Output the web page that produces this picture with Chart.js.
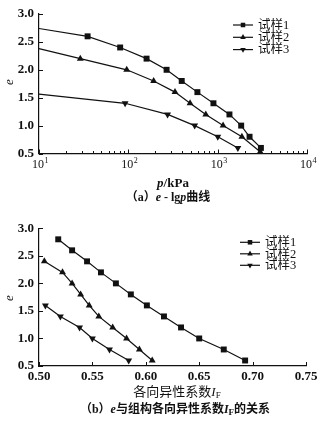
<!DOCTYPE html>
<html>
<head>
<meta charset="utf-8">
<script src="https://cdn.jsdelivr.net/npm/chart.js@4.4.1/dist/chart.umd.min.js"></script>
<style>
  body { margin: 0; background: #fff; width: 327px; height: 422px; position: relative; overflow: hidden;
         font-family: "Liberation Serif", "Noto Sans CJK SC", serif; color: #111; }
  canvas { position: absolute; left: 0; }
  .lbl { position: absolute; white-space: nowrap; transform: translate(-50%, -50%); font-size: 13px; line-height: 1; }
  .lbl sub { font-size: 9px; vertical-align: -2px; }
  .cap { font-size: 12px; font-weight: bold; }
</style>
</head>
<body>
<canvas id="chartA" width="327" height="175" style="top:0"></canvas>
<canvas id="chartB" width="327" height="175" style="top:210px"></canvas>

<div class="lbl" style="left:8px;top:82px;transform:translate(-50%,-50%) rotate(-90deg);font-style:italic">e</div>
<div class="lbl" style="left:173px;top:182px;font-weight:bold"><i>p</i>/kPa</div>
<div class="lbl cap" style="left:168px;top:197px">（a）<i>e</i> - lg<i>p</i>曲线</div>

<div class="lbl" style="left:8px;top:298px;transform:translate(-50%,-50%) rotate(-90deg);font-style:italic">e</div>
<div class="lbl" style="left:177px;top:392px">各向异性系数<i>I</i><sub>F</sub></div>
<div class="lbl cap" style="left:175px;top:410px">（b）<i>e</i>与组构各向异性系数<i>I</i><sub>F</sub>的关系</div>

<script>
// e - lg p curves
const pressure1 = [10, 35, 81, 160, 268, 396, 593, 897, 1355, 1833, 2275, 3048];
const voidRatio1 = [2.74, 2.6, 2.4, 2.2, 2.0, 1.8, 1.6, 1.4, 1.2, 1.0, 0.8, 0.6];
const pressure2 = [10, 29, 96, 192, 333, 491, 736, 1150, 1867, 2992];
const voidRatio2 = [2.38, 2.2, 2.0, 1.8, 1.6, 1.4, 1.2, 1.0, 0.8, 0.53];
const pressure3 = [10, 92, 275, 553, 1003, 1683];
const voidRatio3 = [1.565, 1.4, 1.2, 1.0, 0.8, 0.6];

// e vs fabric anisotropy I_F
const fabric1 = [0.518, 0.531, 0.545, 0.558, 0.572, 0.586, 0.601, 0.617, 0.633, 0.650, 0.673, 0.693];
const eFabric1 = [2.8, 2.6, 2.4, 2.2, 2.0, 1.8, 1.6, 1.4, 1.2, 1.0, 0.8, 0.6];
const fabric2 = [0.505, 0.522, 0.531, 0.539, 0.547, 0.556, 0.569, 0.582, 0.594, 0.606];
const eFabric2 = [2.4, 2.2, 2.0, 1.8, 1.6, 1.4, 1.2, 1.0, 0.8, 0.6];
const fabric3 = [0.506, 0.520, 0.538, 0.550, 0.566, 0.584];
const eFabric3 = [1.6, 1.4, 1.2, 1.0, 0.8, 0.6];

const sampleNames = ['试样1', '试样2', '试样3'];
const decades = [10, 100, 1000, 10000];

const ink = '#111';
const tickFont = { family: '"Liberation Serif", serif', size: 13, weight: 'bold' };
const markers = [
  { pointStyle: 'rect', radius: 4.2, rotation: 0 },
  { pointStyle: 'triangle', radius: 4, rotation: 0 },
  { pointStyle: 'triangle', radius: 4, rotation: 180 }
];

function toPoints(xs, ys) {
  return xs.map((x, i) => ({ x: x, y: ys[i] }));
}

function makeDataset(idx, xs, ys, hideFirst) {
  const m = markers[idx];
  return {
    label: sampleNames[idx],
    data: toPoints(xs, ys),
    borderColor: ink,
    backgroundColor: ink,
    borderWidth: 1.2,
    pointStyle: m.pointStyle,
    pointRotation: m.rotation,
    pointRadius: hideFirst ? xs.map((_, i) => i === 0 ? 0 : m.radius) : m.radius,
    pointBackgroundColor: ink,
    pointBorderWidth: 0,
    clip: false
  };
}

// ticks pointing into the plot area
const inwardTicks = {
  id: 'inwardTicks',
  afterDraw(chart) {
    const ctx = chart.ctx, a = chart.chartArea;
    const xs = chart.scales.x, ys = chart.scales.y;
    ctx.save();
    ctx.strokeStyle = ink;
    ctx.lineWidth = 1;
    ctx.beginPath();
    xs.ticks.forEach(t => {
      const px = Math.round(xs.getPixelForValue(t.value)) + 0.5;
      const len = t.minorTick ? 2.5 : 4;
      ctx.moveTo(px, a.bottom);
      ctx.lineTo(px, a.bottom - len);
    });
    ys.ticks.forEach(t => {
      const py = Math.round(ys.getPixelForValue(t.value)) + 0.5;
      ctx.moveTo(a.left, py);
      ctx.lineTo(a.left + 4, py);
    });
    ctx.stroke();
    ctx.restore();
  }
};

// 10^n labels with a raised exponent
const powerLabels = {
  id: 'powerLabels',
  afterDraw(chart) {
    const ctx = chart.ctx, xs = chart.scales.x, a = chart.chartArea;
    ctx.save();
    ctx.fillStyle = ink;
    ctx.textBaseline = 'alphabetic';
    decades.forEach(d => {
      const px = xs.getPixelForValue(d);
      const exp = String(Math.round(Math.log10(d)));
      ctx.font = '12px "Liberation Serif", serif';
      const wBase = ctx.measureText('10').width;
      ctx.font = '8px "Liberation Serif", serif';
      const wExp = ctx.measureText(exp).width;
      const left = px - (wBase + wExp) / 2 + 1;
      const base = a.bottom + 14;
      ctx.font = '12px "Liberation Serif", serif';
      ctx.textAlign = 'left';
      ctx.fillText('10', left, base);
      ctx.font = '8px "Liberation Serif", serif';
      ctx.fillText(exp, left + wBase + 0.5, base - 5);
    });
    ctx.restore();
  }
};

// line + marker legend placed inside the plot
const sampleLegend = {
  id: 'sampleLegend',
  afterDraw(chart, args, opts) {
    const ctx = chart.ctx;
    ctx.save();
    chart.data.datasets.forEach((ds, i) => {
      const y = opts.y + i * opts.gap;
      ctx.strokeStyle = ink;
      ctx.lineWidth = 1.2;
      ctx.beginPath();
      ctx.moveTo(opts.x, y);
      ctx.lineTo(opts.x + 20, y);
      ctx.stroke();
      ctx.fillStyle = ink;
      Chart.helpers.drawPoint(ctx, { pointStyle: markers[i].pointStyle, radius: 3.2, rotation: markers[i].rotation, borderWidth: 0 }, opts.x + 10, y);
      ctx.fillStyle = ink;
      ctx.font = '12.5px "Liberation Serif", "Noto Sans CJK SC", serif';
      ctx.textAlign = 'left';
      ctx.textBaseline = 'middle';
      ctx.fillText(ds.label, opts.x + 25, y + 0.5);
    });
    ctx.restore();
  }
};

function yScale() {
  return {
    min: 0.5, max: 3.0,
    border: { display: true, color: ink, width: 1.2 },
    grid: { display: false, drawTicks: false },
    ticks: { stepSize: 0.5, color: ink, font: tickFont, padding: 5, callback: v => v.toFixed(1) },
    afterFit: s => { s.width = 39; }
  };
}

new Chart(document.getElementById('chartA'), {
  type: 'line',
  data: {
    datasets: [
      makeDataset(0, pressure1, voidRatio1, true),
      makeDataset(1, pressure2, voidRatio2, true),
      makeDataset(2, pressure3, voidRatio3, true)
    ]
  },
  options: {
    responsive: false,
    animation: false,
    layout: { autoPadding: false, padding: { top: 14, right: 20, bottom: 0, left: 0 } },
    plugins: { legend: { display: false }, tooltip: { enabled: false },
               sampleLegend: { x: 233, y: 25, gap: 12.3 } },
    scales: {
      x: {
        type: 'logarithmic',
        min: 10, max: 10000,
        border: { display: true, color: ink, width: 1.2 },
        grid: { display: false, drawTicks: false },
        ticks: { display: false, autoSkip: false },
        afterBuildTicks: s => {
          const ticks = [];
          decades.forEach(d => {
            ticks.push({ value: d });
            if (d < 10000) for (let k = 2; k <= 9; k++) ticks.push({ value: d * k, minorTick: true });
          });
          s.ticks = ticks;
        },
        afterFit: s => { s.height = 21.5; }
      },
      y: yScale()
    }
  },
  plugins: [inwardTicks, powerLabels, sampleLegend]
});

new Chart(document.getElementById('chartB'), {
  type: 'line',
  data: {
    datasets: [
      makeDataset(0, fabric1, eFabric1, false),
      makeDataset(1, fabric2, eFabric2, false),
      makeDataset(2, fabric3, eFabric3, false)
    ]
  },
  options: {
    responsive: false,
    animation: false,
    layout: { autoPadding: false, padding: { top: 18.3, right: 21, bottom: 0, left: 0 } },
    plugins: { legend: { display: false }, tooltip: { enabled: false },
               sampleLegend: { x: 240, y: 32.3, gap: 11.5 } },
    scales: {
      x: {
        type: 'linear',
        min: 0.5, max: 0.75,
        border: { display: true, color: ink, width: 1.2 },
        grid: { display: false, drawTicks: false },
        ticks: { stepSize: 0.05, maxRotation: 0, color: ink, font: tickFont, padding: 3,
                 callback: v => v.toFixed(2) },
        afterFit: s => { s.height = 19; }
      },
      y: yScale()
    }
  },
  plugins: [inwardTicks, sampleLegend]
});
</script>
</body>
</html>
